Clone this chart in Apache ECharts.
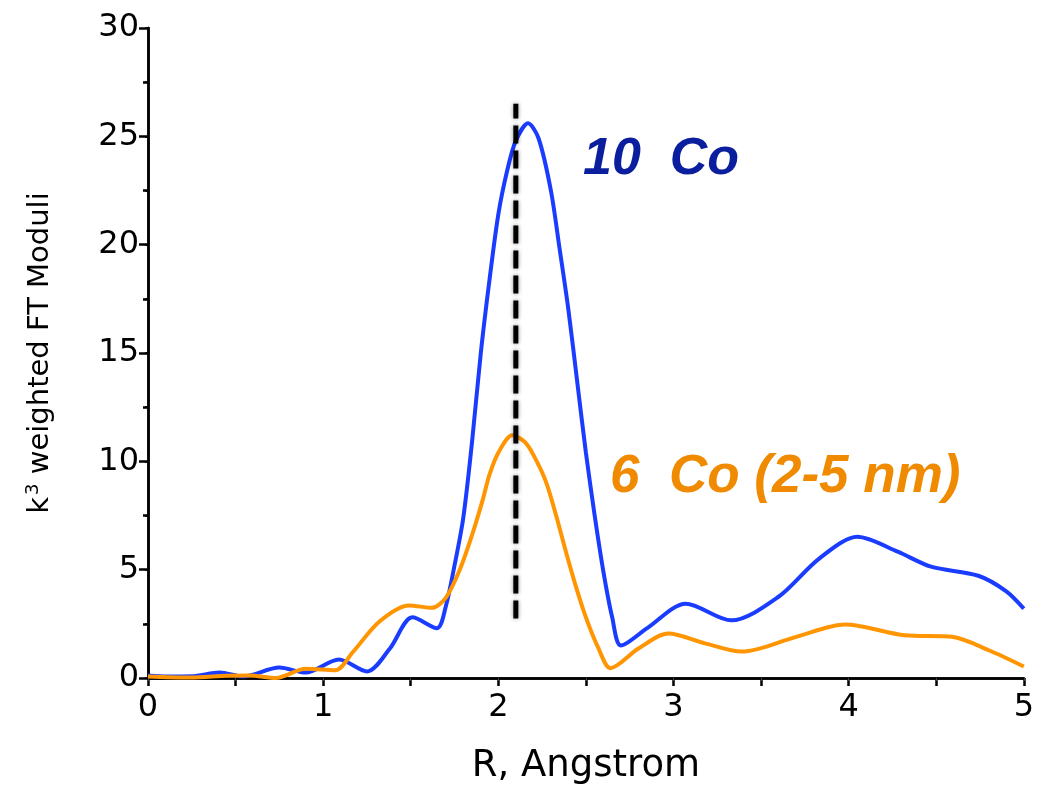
<!DOCTYPE html>
<html>
<head>
    <meta charset="utf-8">
    <style type="text/css">
        html,body { margin: 0px; padding: 0px; background: #fff; }
        #main { width: 1037px; height: 790px; }
    </style>
    <script src="https://cdn.jsdelivr.net/npm/echarts@6/dist/echarts.min.js"></script>
</head>
<body>
    <div id="main"></div>
    <script type="text/javascript">
        // 10 Co 曲线 (R, 模量)
        var blueR = [0.00, 0.11, 0.25, 0.41, 0.54, 0.75, 0.90, 1.09, 1.25, 1.38, 1.51, 1.65, 1.70, 1.75, 1.80, 1.85, 1.90, 1.95, 2.00, 2.05, 2.10, 2.17, 2.23, 2.30, 2.35, 2.40, 2.45, 2.50, 2.55, 2.60, 2.65, 2.70, 2.85, 3.07, 3.33, 3.60, 3.83, 4.05, 4.28, 4.47, 4.74, 4.90, 5.00];
        var blueY = [0.12, 0.07, 0.08, 0.25, 0.07, 0.48, 0.25, 0.85, 0.30, 1.35, 2.8, 2.3, 3.3, 5.2, 7.4, 10.9, 15.0, 18.4, 21.4, 23.4, 24.8, 25.6, 24.9, 22.5, 19.8, 17.0, 13.7, 10.4, 7.5, 4.9, 2.8, 1.5, 2.3, 3.43, 2.66, 3.75, 5.5, 6.52, 5.83, 5.14, 4.72, 4.0, 3.2];
        // 6 Co (2-5 nm) 曲线
        var orangeR = [0.00, 0.24, 0.45, 0.58, 0.73, 0.90, 1.07, 1.17, 1.32, 1.49, 1.62, 1.70, 1.78, 1.85, 1.91, 1.95, 2.00, 2.08, 2.15, 2.20, 2.27, 2.33, 2.38, 2.44, 2.50, 2.57, 2.64, 2.80, 2.97, 3.18, 3.39, 3.70, 3.98, 4.32, 4.59, 4.80, 5.00];
        var orangeY = [0.07, 0.02, 0.10, 0.12, 0.00, 0.43, 0.36, 1.2, 2.6, 3.35, 3.24, 3.7, 5.0, 6.6, 8.2, 9.4, 10.4, 11.2, 10.9, 10.3, 9.1, 7.5, 6.0, 4.3, 2.8, 1.4, 0.45, 1.36, 2.05, 1.6, 1.22, 1.9, 2.47, 1.97, 1.9, 1.28, 0.53];
        // 虚线位置
        var markR = [2.1, 2.1];
        var markY = [2.75, 26.5];

        function pairs(xs, ys) {
            var out = [];
            for (var i = 0; i < xs.length; i++) out.push([xs[i], ys[i]]);
            return out;
        }

        var FONT = 'DejaVu Sans';
        var myChart = echarts.init(document.getElementById('main'));

        var option = {
            animation: false,
            grid: { left: 148, right: 11, top: 28, bottom: 110 },
            xAxis: [{
                type: 'value', min: 0, max: 5, interval: 1,
                name: 'R, Angstrom', nameLocation: 'middle', nameGap: 70,
                nameTextStyle: { fontFamily: FONT, fontSize: 37, color: '#000' },
                axisLine: { lineStyle: { color: '#000', width: 2.5 } },
                axisTick: { length: 8, lineStyle: { color: '#000', width: 2.5 } },
                minorTick: { show: true, splitNumber: 2, length: 8, lineStyle: { color: '#000', width: 2.5 } },
                axisLabel: { fontFamily: FONT, fontSize: 32, color: '#000', margin: 14 },
                splitLine: { show: false }
            }, {
                type: 'value', min: 0, max: 5, interval: 0.5, position: 'top',
                axisLine: { lineStyle: { color: '#000', width: 2.5 } },
                axisTick: { inside: true, length: 3, lineStyle: { color: '#444', width: 1 } },
                axisLabel: { show: false },
                splitLine: { show: false }
            }],
            yAxis: [{
                type: 'value', min: 0, max: 30, interval: 5,
                name: '{a|k}{b|3}{a| weighted FT Moduli}', nameLocation: 'middle', nameGap: 92,
                nameTextStyle: {
                    rich: {
                        a: { fontFamily: FONT, fontSize: 29, color: '#000' },
                        b: { fontFamily: FONT, fontSize: 18, color: '#000', verticalAlign: 'top', padding: [0, 0, 14, 2] }
                    }
                },
                axisLine: { lineStyle: { color: '#000', width: 2.5 } },
                axisTick: { length: 9, lineStyle: { color: '#000', width: 2.5 } },
                minorTick: { show: true, splitNumber: 2, length: 5, lineStyle: { color: '#000', width: 2.5 } },
                axisLabel: { fontFamily: FONT, fontSize: 32, color: '#000', margin: 9 },
                splitLine: { show: false }
            }, {
                type: 'value', min: 0, max: 30, interval: 2.5, position: 'right',
                axisLine: { show: true, lineStyle: { color: '#000', width: 2.5 } },
                axisTick: { inside: true, length: 3, lineStyle: { color: '#000', width: 1.5 } },
                axisLabel: { show: false },
                splitLine: { show: false }
            }],
            series: [{
                name: '10 Co', type: 'line', smooth: 0.3, symbol: 'none',
                lineStyle: { color: '#1a3cff', width: 4 },
                data: pairs(blueR, blueY), z: 3
            }, {
                name: '6 Co', type: 'line', smooth: 0.3, symbol: 'none',
                lineStyle: { color: '#ff9500', width: 4 },
                data: pairs(orangeR, orangeY), z: 4
            }, {
                name: 'mark', type: 'line', symbol: 'none',
                lineStyle: { color: '#000', width: 5, type: [18, 7],
                    shadowBlur: 4, shadowColor: 'rgba(0,0,0,0.45)' },
                data: pairs(markR, markY), z: 5
            }],
            graphic: [{
                type: 'text', left: 583, top: 134,
                style: { text: '10  Co', fill: '#0a1e9e', fontFamily: 'Liberation Sans',
                    fontSize: 52, fontWeight: 'bold', fontStyle: 'italic' }
            }, {
                type: 'text', left: 610, top: 451,
                style: { text: '6  Co (2-5 nm)', fill: '#f08a00', fontFamily: 'Liberation Sans',
                    fontSize: 53, fontWeight: 'bold', fontStyle: 'italic' }
            }]
        };

        myChart.setOption(option);
        window.onresize = myChart.resize;
    </script>
</body>
</html>
